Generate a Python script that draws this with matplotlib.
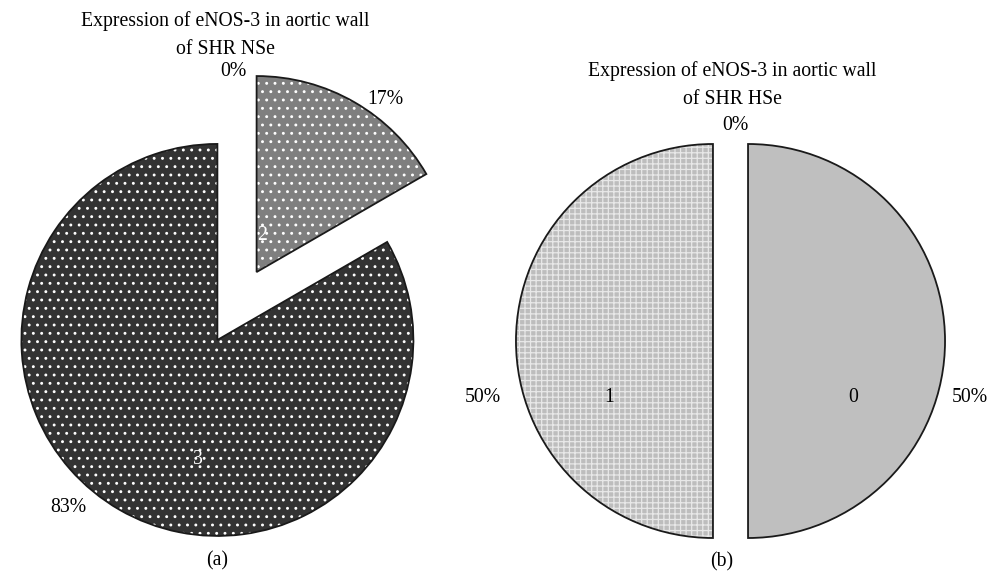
import matplotlib
matplotlib.use('Agg')
import matplotlib.pyplot as plt

plt.rcParams['font.family'] = ['Liberation Serif', 'DejaVu Serif']
plt.rcParams['hatch.linewidth'] = 0.9

# expression scores per group (count of animals)
nse_names = ['2', '3', '']
nse_counts = [1, 5, 0]
hse_names = ['0', '1', '']
hse_counts = [1, 1, 0]

titles = ['Expression of eNOS-3 in aortic wall\nof SHR NSe',
          'Expression of eNOS-3 in aortic wall\nof SHR HSe']
panel_tags = ['(a)', '(b)']

fig = plt.figure(figsize=(9.93, 5.75), dpi=100)
ax = fig.add_axes([0, 0, 1, 1])

fs = 14.2


def draw_pie(counts, names, center, radius, explode, colors, hatches, hatch_col,
             pct_pos, name_pos, name_col):
    # explode is given as a fraction of the radius; pie() wants data units
    offs = [e * radius for e in explode]
    # filled wedges with their patterns
    wedges, _ = ax.pie(counts, explode=offs, colors=colors, startangle=90,
                       counterclock=False, center=center, radius=radius,
                       wedgeprops=dict(linewidth=0))
    for w, h, hc in zip(wedges, hatches, hatch_col):
        if h:
            w.set_hatch(h)
            w.set_edgecolor(hc)
    # black outlines and percentage labels
    outl, _, pcts = ax.pie(counts, explode=offs, startangle=90, counterclock=False,
                           center=center, radius=radius, autopct='%.0f%%',
                           wedgeprops=dict(facecolor='none', edgecolor='#1a1a1a',
                                           linewidth=1.3),
                           textprops=dict(fontsize=fs, color='black'))
    for w, v in zip(outl, counts):
        if v == 0:
            w.set_visible(False)
    for t, p in zip(pcts, pct_pos):
        t.set_position(p)
        t.set_ha('center')
        t.set_va('center')
    for n, p, c in zip(names, name_pos, name_col):
        if n:
            ax.text(p[0], p[1], n, fontsize=fs, color=c, ha='center', va='center')


draw_pie(nse_counts, nse_names, (237, 269), 196, [0.2, 0.2, 0],
         ['#7f7f7f', '#333333', 'white'], ['..', '..', None],
         ['white', 'white', 'white'],
         [(385, 475), (68, 68), (233, 503)],
         [(262, 339), (198, 115)], ['white', 'white'])

draw_pie(hse_counts, hse_names, (730.5, 234), 197, [0.089, 0.089, 0],
         ['#bfbfbf', '#bdbdbd', 'white'], [None, '+++', None],
         ['#bfbfbf', '#e8e8e8', 'white'],
         [(970, 177), (483, 177), (735, 450)],
         [(853, 177), (609, 177)], ['black', 'black'])

ax.text(225, 540, titles[0], fontsize=fs, ha='center', va='center', linespacing=1.7)
ax.text(732, 490, titles[1], fontsize=fs, ha='center', va='center', linespacing=1.7)
ax.text(217, 14, panel_tags[0], fontsize=fs, ha='center', va='center')
ax.text(722, 13, panel_tags[1], fontsize=fs, ha='center', va='center')

# pie() resets the limits, so fix the pixel-sized frame afterwards
ax.set_xlim(0, 993)
ax.set_ylim(0, 575)
ax.set_aspect('equal')
ax.axis('off')

fig.savefig('out.png', dpi=100)
